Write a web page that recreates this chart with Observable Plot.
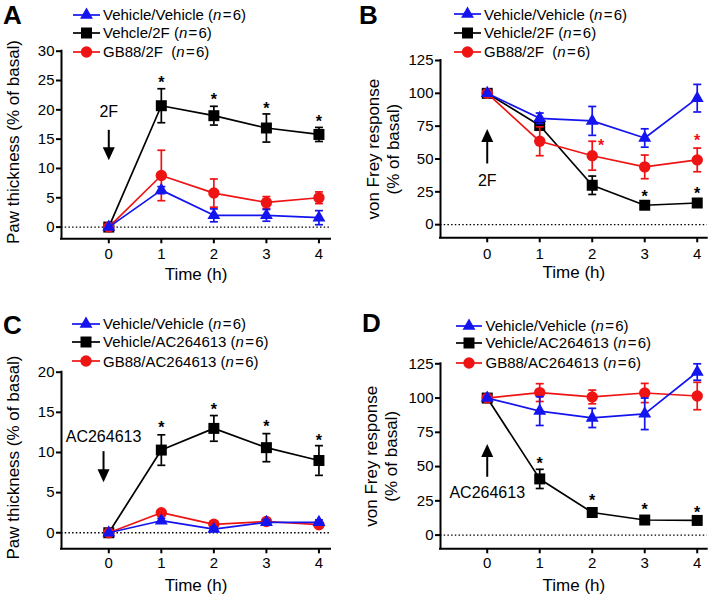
<!DOCTYPE html>
<html><head><meta charset="utf-8">
<script src="https://cdn.jsdelivr.net/npm/d3@7"></script>
<script src="https://cdn.jsdelivr.net/npm/@observablehq/plot@0.6"></script>
<style>
body{margin:0;background:#fff;}
#root{position:relative;width:709px;height:596px;font-family:"Liberation Sans",Arial,sans-serif;color:#000;overflow:hidden;background:#fff}
.abs{position:absolute}
.letter{font-weight:bold;font-size:26px;line-height:1}
.leg{font-size:15px;line-height:1;white-space:nowrap}
</style></head><body><div id="root"></div>
<script>
// ---------- shared ----------
const hours = [0, 1, 2, 3, 4];
const seriesColors = ["#1414ee", "#000000", "#ee1414"];   // blue, black, red
const seriesSymbols = ["triangle", "square", "circle"];
const seriesR = [4.8, 6.2, 5.7];

// ---------- Panel A : paw thickness, 2F ----------
const aNames = ["Vehicle/Vehicle", "Vehcle/2F", "GB88/2F\u00a0"];
const aVehVeh = [0, 6.3, 2.0, 2.0, 1.6];
const aVehVehSem = [0, 0.6, 1.1, 1.0, 1.2];
const aVeh2F = [0, 20.7, 19.0, 16.9, 15.8];
const aVeh2FSem = [0, 2.9, 1.6, 2.4, 1.2];
const aGB2F = [0, 8.8, 5.8, 4.2, 5.0];
const aGB2FSem = [0, 4.3, 2.4, 1.0, 1.0];
const aStarHours = [1, 2, 3, 4];
const aStarY = [25.2, 22.4, 20.9, 18.6];
const aStarSeries = [1, 1, 1, 1];
const aYTicks = [0, 5, 10, 15, 20, 25, 30];
const aArrow = [0, 16.5, 11.4, 19.6];   // hour, tail, tip, label y
const aArrowLabel = "2F";

// ---------- Panel B : von Frey, 2F ----------
const bNames = ["Vehicle/Vehicle", "Vehicle/2F", "GB88/2F\u00a0"];
const bVehVeh = [100, 81, 79, 66, 96.3];
const bVehVehSem = [0, 4, 11, 7, 10.5];
const bVeh2F = [100, 75.5, 30, 14.8, 16.5];
const bVeh2FSem = [0, 2, 7, 1.5, 1.5];
const bGB2F = [100, 63.5, 52.5, 44, 49.3];
const bGB2FSem = [0, 11, 11, 9, 9];
const bStarHours = [2.17, 4, 3, 4];
const bStarY = [62.8, 66.6, 23.9, 26.4];
const bStarSeries = [2, 2, 1, 1];
const bYTicks = [0, 25, 50, 75, 100, 125];
const bArrow = [0, 46.2, 72.9, 33.5];
const bArrowLabel = "2F";

// ---------- Panel C : paw thickness, AC264613 ----------
const cNames = ["Vehicle/Vehicle", "Vehicle/AC264613", "GB88/AC264613"];
const cVehVeh = [0, 1.5, 0.45, 1.3, 1.3];
const cVehVehSem = [0, 0.3, 0.3, 0.3, 0.3];
const cVehAC = [0, 10.3, 13.0, 10.6, 9.0];
const cVehACSem = [0, 1.9, 1.6, 1.75, 1.85];
const cGBAC = [0, 2.5, 1.05, 1.4, 1.0];
const cGBACSem = [0, 0.3, 0.3, 0.3, 0.3];
const cStarHours = [1, 2, 3, 4];
const cStarY = [13.6, 15.75, 13.7, 11.96];
const cStarSeries = [1, 1, 1, 1];
const cYTicks = [0, 5, 10, 15, 20];
const cArrow = [-0.1, 10.1, 6.3, 11.9];
const cArrowLabel = "AC264613";

// ---------- Panel D : von Frey, AC264613 ----------
const dNames = ["Vehicle/Vehicle", "Vehicle/AC264613", "GB88/AC264613"];
const dVehVeh = [100, 90.5, 85.5, 88.5, 119];
const dVehVehSem = [0, 10.5, 7, 11.5, 6];
const dVehAC = [100, 41, 16.5, 11, 10.7];
const dVehACSem = [0, 7, 1.5, 1.5, 1.5];
const dGBAC = [100, 104, 100.8, 103.7, 101.5];
const dGBACSem = [0, 6.5, 5, 7, 10];
const dStarHours = [1, 2, 3, 4];
const dStarY = [55.2, 28.1, 21.3, 18.9];
const dStarSeries = [1, 1, 1, 1];
const dYTicks = [0, 25, 50, 75, 100, 125];
const dArrow = [0, 42.2, 66.4, 31];
const dArrowLabel = "AC264613";

// ---------- symbols ----------
const capSymbol = {draw(ctx, size) { const w = Math.sqrt(size / Math.PI); ctx.moveTo(-w, 0); ctx.lineTo(w, 0); }};
const headUp = {draw(ctx) { ctx.moveTo(0, 0); ctx.lineTo(6, 13); ctx.lineTo(-6, 13); ctx.closePath(); }};
const headDown = {draw(ctx) { ctx.moveTo(0, 0); ctx.lineTo(6, -13); ctx.lineTo(-6, -13); ctx.closePath(); }};

const root = document.getElementById("root");
const FONT = "Liberation Sans, Arial, sans-serif";

function makePanel(cfg) {
  const marks = [];
  marks.push(Plot.ruleY([0], {stroke: "#000", strokeWidth: 1.3, strokeDasharray: "1.5,2.2"}));
  for (const k of [1, 2, 0]) {
    const color = seriesColors[k];
    const rows = hours.map((t, i) => ({t, v: cfg.values[k][i], e: cfg.errs[k][i]}));
    const er = rows.filter(d => d.e > 0);
    const caps = er.flatMap(d => [{t: d.t, y: d.v + d.e}, {t: d.t, y: d.v - d.e}]);
    marks.push(Plot.line(rows, {x: "t", y: "v", stroke: color, strokeWidth: 1.7}));
    marks.push(Plot.ruleX(er, {x: "t", y1: d => d.v - d.e, y2: d => d.v + d.e, stroke: color, strokeWidth: 1.7}));
    marks.push(Plot.dot(caps, {x: "t", y: "y", symbol: capSymbol, r: 4, stroke: color, strokeWidth: 1.7, fill: "none"}));
    marks.push(Plot.dot(rows, {x: "t", y: "v", symbol: seriesSymbols[k], r: seriesR[k], fill: color}));
  }
  // significance stars
  const stars = cfg.starX.map((t, i) => ({t, y: cfg.starY[i], k: cfg.starK[i]}));
  for (const k of [1, 2]) {
    const s = stars.filter(d => d.k === k);
    if (s.length) marks.push(Plot.text(s, {x: "t", y: "y", text: () => "*", fill: seriesColors[k], fontSize: 16, fontWeight: "bold", dy: 4}));
  }
  // arrow annotation
  const [ax, tail, tip, ly] = cfg.arrow;
  const up = tip > tail;
  const arr = [{x: ax, tail, tip, ly, label: cfg.arrowLabel}];
  marks.push(Plot.ruleX(arr, {x: "x", y1: d => Math.max(d.tail, d.tip), y2: d => Math.min(d.tail, d.tip), strokeWidth: 2, stroke: "#000",
    insetTop: up ? 8 : 0, insetBottom: up ? 0 : 8}));
  marks.push(Plot.dot(arr, {x: "x", y: "tip", symbol: up ? headUp : headDown, r: 1, fill: "#000"}));
  marks.push(Plot.text(arr, {x: "x", y: "ly", text: "label", fontSize: 16, lineAnchor: "middle"}));
  // axes
  marks.push(Plot.ruleY([cfg.yDomain[0]], {strokeWidth: 2, stroke: "#000", strokeLinecap: "square"}));
  marks.push(Plot.ruleX([cfg.xDomain[0]], {strokeWidth: 2, stroke: "#000", strokeLinecap: "square"}));
  marks.push(Plot.axisX({ticks: hours, tickSize: 5, tickPadding: cfg.xTickPad, strokeWidth: 2, fontSize: 15, label: null, tickFormat: d => String(d)}));
  marks.push(Plot.axisY({ticks: cfg.yTicks, tickSize: 5, tickPadding: 2, strokeWidth: 2, fontSize: 15, label: null, tickFormat: d => String(d)}));
  marks.push(Plot.text(["Time (h)"], {text: d => d, frameAnchor: "bottom", textAnchor: "middle", dy: cfg.xTitleDy, fontSize: 17, lineAnchor: "middle"}));
  marks.push(Plot.text([cfg.yTitle], {text: d => d, frameAnchor: "left", textAnchor: "middle", rotate: -90, dx: cfg.yTitleDx, dy: cfg.yTitleDy, fontSize: 17, lineAnchor: "middle", lineHeight: 1.15}));

  const chart = Plot.plot({
    width: cfg.width, height: cfg.height,
    marginTop: cfg.m[0], marginRight: cfg.m[1], marginBottom: cfg.m[2], marginLeft: cfg.m[3],
    x: {type: "linear", domain: cfg.xDomain},
    y: {type: "linear", domain: cfg.yDomain},
    style: {fontFamily: FONT, fontSize: "15px", background: "transparent", overflow: "visible", color: "#000"},
    marks
  });
  const holder = document.createElement("div");
  holder.className = "abs";
  holder.style.left = cfg.left + "px";
  holder.style.top = cfg.top + "px";
  holder.appendChild(chart);
  root.appendChild(holder);

  // panel letter
  const L = document.createElement("div");
  L.className = "abs letter";
  L.style.left = (cfg.left + cfg.letterPos[0]) + "px";
  L.style.top = (cfg.top + cfg.letterPos[1]) + "px";
  L.textContent = cfg.letter;
  root.appendChild(L);

  // legend
  const [lx1, lx2, tx, rowsY] = cfg.legend;
  [0, 1, 2].forEach((k, i) => {
    const yc = cfg.top + rowsY[i];
    const w = lx2 - lx1;
    const svg = d3.create("svg").attr("width", w).attr("height", 16)
      .style("position", "absolute").style("left", (cfg.left + lx1) + "px").style("top", (yc - 8) + "px").style("overflow", "visible");
    svg.append("line").attr("x1", 0).attr("x2", w).attr("y1", 8).attr("y2", 8).attr("stroke", seriesColors[k]).attr("stroke-width", 1.7);
    const sym = [d3.symbolTriangle, d3.symbolSquare, d3.symbolCircle][k];
    svg.append("path").attr("transform", `translate(${w / 2},8)`).attr("d", d3.symbol(sym, Math.PI * seriesR[k] * seriesR[k])()).attr("fill", seriesColors[k]);
    root.appendChild(svg.node());
    const t = document.createElement("div");
    t.className = "abs leg";
    t.style.left = (cfg.left + tx) + "px";
    t.style.top = (yc - 7.5) + "px";
    t.innerHTML = cfg.names[k] + " (<i>n</i>\u200a=\u200a6)";
    root.appendChild(t);
  });
}

makePanel({
  letter: "A", left: 0, top: 0, width: 354, height: 300, m: [50.7, 24, 61.7, 61],
  xDomain: [-0.9, 4.22], yDomain: [-2, 30], yTicks: aYTicks, xTickPad: 5, xTitleDy: 36,
  yTitle: "Paw thickness (% of basal)", yTitleDx: -49, yTitleDy: -3,
  values: [aVehVeh, aVeh2F, aGB2F], errs: [aVehVehSem, aVeh2FSem, aGB2FSem], names: aNames,
  starX: aStarHours, starY: aStarY, starK: aStarSeries, arrow: aArrow, arrowLabel: aArrowLabel,
  legend: [73, 100, 103, [14.5, 32.5, 51.5]], letterPos: [3, 1.6]
});
makePanel({
  letter: "B", left: 354, top: 0, width: 355, height: 300, m: [60, 2.3, 62.7, 86],
  xDomain: [-0.89, 4.19], yDomain: [-10, 125], yTicks: bYTicks, xTickPad: 6, xTitleDy: 34.5,
  yTitle: "von Frey response\n(% of basal)", yTitleDx: -58, yTitleDy: 0,
  values: [bVehVeh, bVeh2F, bGB2F], errs: [bVehVehSem, bVeh2FSem, bGB2FSem], names: bNames,
  starX: bStarHours, starY: bStarY, starK: bStarSeries, arrow: bArrow, arrowLabel: bArrowLabel,
  legend: [100, 127, 130, [14, 32.5, 51.5]], letterPos: [5, 1.6]
});
makePanel({
  letter: "C", left: 0, top: 300, width: 354, height: 296, m: [71.7, 24, 47.7, 61],
  xDomain: [-0.9, 4.22], yDomain: [-2, 20], yTicks: cYTicks, xTickPad: 3.5, xTitleDy: 36.5,
  yTitle: "Paw thickness (% of basal)", yTitleDx: -49, yTitleDy: -3,
  values: [cVehVeh, cVehAC, cGBAC], errs: [cVehVehSem, cVehACSem, cGBACSem], names: cNames,
  starX: cStarHours, starY: cStarY, starK: cStarSeries, arrow: cArrow, arrowLabel: cArrowLabel,
  legend: [72, 100, 103, [23.7, 41.7, 61]], letterPos: [3, 11.6]
});
makePanel({
  letter: "D", left: 354, top: 300, width: 355, height: 296, m: [63.3, 2.3, 47.7, 86],
  xDomain: [-0.89, 4.19], yDomain: [-10, 125], yTicks: dYTicks, xTickPad: 3.5, xTitleDy: 36.5,
  yTitle: "von Frey response\n(% of basal)", yTitleDx: -60, yTitleDy: 0,
  values: [dVehVeh, dVehAC, dGBAC], errs: [dVehVehSem, dVehACSem, dGBACSem], names: dNames,
  starX: dStarHours, starY: dStarY, starK: dStarSeries, arrow: dArrow, arrowLabel: dArrowLabel,
  legend: [102, 128, 131.5, [25.8, 42.5, 62.5]], letterPos: [8, 10]
});
</script>
</body></html>
